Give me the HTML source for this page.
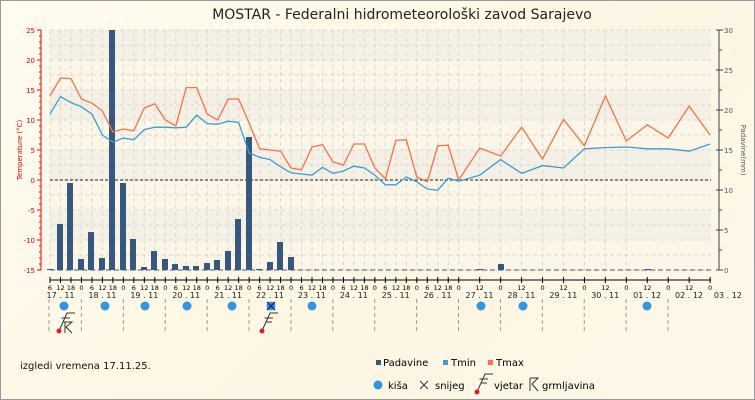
<!DOCTYPE html>
<html><head><meta charset="utf-8"><style>
html,body{margin:0;padding:0;width:755px;height:400px;overflow:hidden}
body{background:linear-gradient(135deg,#fffbef,#fdf6e3 60%,#fdf8ea);font-family:"DejaVu Sans","Liberation Sans",sans-serif}
svg{display:block}
</style></head><body>
<svg id="s" width="755" height="400" xmlns="http://www.w3.org/2000/svg">
<rect x="0.5" y="0.5" width="754" height="399" fill="none" stroke="#999"/>
<text x="402" y="19" font-size="14" text-anchor="middle" fill="#222">MOSTAR - Federalni hidrometeorološki zavod Sarajevo</text>
</svg>
<script>
const s=document.getElementById('s');let h='';
const X0=50,XE=711,Y=T=>180-6*T,YP=P=>270-8*P;
h+=`<rect x="${X0}" y="30" width="${XE-X0}" height="240" fill="#fbf6e8"/>`;
for(let i=0;i<4;i++){h+=`<rect x="${X0}" y="${30+i*60}" width="${XE-X0}" height="30" fill="#f1ede2" opacity="0.6"/>`;}
for(let y=30;y<=270;y+=15)h+=`<line x1="${X0}" x2="${XE}" y1="${y}" y2="${y}" stroke="#dcd8cc" stroke-dasharray="4,3"/>`;
const day=41.9,D0=X0-10.48;
const tx=[];for(let i=0;i<=39;i++)tx.push(X0+10.48*i);
for(let i=1;i<=8;i++)tx.push(X0+10.48*39+20.95*i);
tx.forEach(x=>h+=`<line x1="${x}" x2="${x}" y1="30" y2="270" stroke="#dcd8cc" stroke-dasharray="4,3"/>`);
h+=`<line x1="${X0}" x2="${XE}" y1="180" y2="180" stroke="#222" stroke-dasharray="3,2"/>`;
h+=`<line x1="41" x2="41" y1="30" y2="270" stroke="#e00"/>`;
for(let t=-15;t<=25;t+=1){const y=Y(t);const big=t%5==0;h+=`<line x1="${big?37:39}" x2="41" y1="${y}" y2="${y}" stroke="#e00"/>`;if(big)h+=`<text x="35" y="${y+3}" font-size="7" fill="#e00" text-anchor="end">${t}</text>`;}
h+=`<text transform="translate(22,150) rotate(-90)" font-size="7" fill="#e00" text-anchor="middle">Temperature (°C)</text>`;
h+=`<line x1="719" x2="719" y1="30" y2="270" stroke="#345"/>`;
for(let p=0;p<=30;p+=2.5){const y=YP(p);const big=p%5==0;h+=`<line x1="${big?716:719}" x2="${big?723:722}" y1="${y}" y2="${y}" stroke="${big?'#345':'#e00'}"/>`;if(big)h+=`<text x="724" y="${y+3}" font-size="7" fill="#555">${p}</text>`;}
h+=`<text transform="translate(741,150) rotate(90)" font-size="7" fill="#555" text-anchor="middle">Padavine(mm)</text>`;
const pb=[[50,269],[60,224],[70,183],[81,259],[91,232],[102,258],[112,30],[123,183],[133,239],[144,267],[154,251],[165,259],[175,264],[186,266],[196,266],[207,263],[217,260],[228,251],[238,219],[249,137],[259,269],[270,262],[280,242],[291,257],[480,269],[501,264],[648,269]];
h+=`<line x1="${X0}" x2="${XE}" y1="270" y2="270" stroke="#3a5a80" stroke-dasharray="5,3"/>`;
pb.forEach(([x,y])=>h+=`<rect x="${x-3}" y="${y}" width="6" height="${270-y}" fill="#36587e"/>`);
const mx=[14,17,16.9,13.5,12.8,11.5,8,8.5,8.2,12,12.7,10,9,15.4,15.4,11,10,13.5,13.5,9.5,5.2,5,4.8,2,1.7,5.5,5.9,3,2.5,6,6,2,0.2,6.6,6.7,0.5,-0.3,5.7,5.8,0,5.3,4,8.8,3.5,10.1,5.7,14,6.5,9.2,7,12.3,7.5];
const mn=[11,13.9,12.9,12.2,11,7.5,6.3,7,6.7,8.4,8.8,8.8,8.7,8.8,10.8,9.4,9.3,9.8,9.6,4.5,3.8,3.4,2.2,1.2,1.0,0.8,2.1,1.1,1.5,2.3,2,0.8,-0.8,-0.8,0.5,-0.3,-1.5,-1.7,0.3,-0.2,0.8,3.4,1.1,2.4,2.0,5.2,5.4,5.5,5.2,5.2,4.8,6];
const xs=[];for(let i=0;i<40;i++)xs.push(X0+10.48*i);for(let i=1;i<=12;i++)xs.push(X0+10.48*39+20.95*i);
const pl=(a,c)=>`<polyline fill="none" stroke="${c}" stroke-width="1.3" points="${a.map((t,i)=>xs[i].toFixed(1)+','+Y(t).toFixed(1)).join(' ')}"/>`;
h+=pl(mn,'#3d9bd4')+pl(mx,'#f5724a');
h+=`<line x1="${X0}" x2="${XE}" y1="280" y2="280" stroke="#000"/>`;
const ticks=[];for(let i=0;i<40;i++)ticks.push([X0+10.48*i,[6,12,18,0][i%4]]);for(let i=1;i<=12;i++)ticks.push([X0+10.48*39+20.95*i,i%2?12:0]);
ticks.forEach(([x,l])=>{h+=`<line x1="${x}" x2="${x}" y1="277" y2="283" stroke="#000"/><text x="${x}" y="290" font-size="6.5" text-anchor="middle">${l}</text>`;});
const days=['17','18','19','20','21','22','23','24','25','26','27','28','29','30','01','02','03'];
days.forEach((d,i)=>{const m=i<14?'11':'12';const x=D0+day*i+(i==16?18:21);h+=`<text x="${x}" y="298" font-size="8" text-anchor="middle" fill="#222">${d} . ${m}</text>`;
 if(i>0&&i<16){const lx=D0+day*i;h+=`<line x1="${lx}" x2="${lx}" y1="299" y2="332" stroke="#999" stroke-dasharray="4,3"/>`;}});
h+=`<line x1="49" x2="49" y1="299" y2="332" stroke="#999" stroke-dasharray="4,3"/>`;
[64,105,145,187,232,271,312,481,523,647].forEach(x=>h+=`<circle cx="${x}" cy="306" r="4.5" fill="#3496dc"/>`);
h+=`<path d="M267 302 L275 310 M275 302 L267 310" stroke="#1a2a8a" stroke-width="1.5"/>`;
const wind=(x,y)=>`<path d="M${x} ${y} L${x+8} ${y-18} L${x+16} ${y-18} M${x+2.5} ${y-13} L${x+11} ${y-13} M${x+4.5} ${y-9} L${x+10} ${y-9}" stroke="#333" fill="none"/><circle cx="${x}" cy="${y}" r="2.5" fill="#e02020"/>`;
h+=wind(59,331)+wind(262,331);
h+=`<path d="M65 322 L65 333 M65 322 L72 322 L66 327 L72 333" stroke="#333" fill="none"/>`;
h+=`<text x="20" y="369" font-size="10" fill="#111">izgledi vremena 17.11.25.</text>`;
h+=`<rect x="376" y="360" width="5" height="5" fill="#36587e"/><text x="383" y="366" font-size="10">Padavine</text>`;
h+=`<rect x="443" y="360" width="5" height="5" fill="#3d9bd4"/><text x="451" y="366" font-size="10">Tmin</text>`;
h+=`<rect x="488" y="360" width="5" height="5" fill="#f5724a"/><text x="496" y="366" font-size="10">Tmax</text>`;
h+=`<circle cx="378" cy="385" r="4.5" fill="#3496dc"/><text x="388" y="389" font-size="10">kiša</text>`;
h+=`<path d="M420 381 L428 389 M428 381 L420 389" stroke="#335" /><text x="435" y="389" font-size="10">snijeg</text>`;
h+=wind(477,392)+`<text x="494" y="389" font-size="10">vjetar</text>`;
h+=`<path d="M530 378 L530 391 M530 378 L538 378 L532 384 L538 391" stroke="#333" fill="none"/><text x="542" y="389" font-size="10">grmljavina</text>`;
s.insertAdjacentHTML('beforeend',h);
</script>
</body></html>
